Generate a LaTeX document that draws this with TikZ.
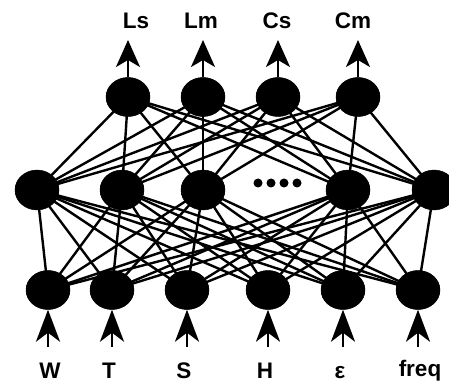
\documentclass[tikz,border=0pt]{standalone}
\usepackage{fontspec}
\setmainfont{Liberation Sans}
\usetikzlibrary{shapes.geometric,arrows.meta}
\begin{document}
\begin{tikzpicture}[x=1pt,y=-1pt,
  neuron/.style={ellipse,fill=black,draw=black,minimum width=44pt,minimum height=39pt,inner sep=0pt},
  link/.style={line width=2.4pt,black},
  outarrow/.style={line width=2.4pt,-{Stealth[length=27pt,width=24pt,inset=7pt]}},
  inarrow/.style={line width=2.4pt,-{Stealth[length=32pt,width=24pt,inset=9pt]}},
  lbl/.style={font=\bfseries\fontsize{22.5}{24}\selectfont,inner sep=0pt,anchor=center},
  dot/.style={circle,fill=black,minimum size=9pt,inner sep=0pt}]
\useasboundingbox (0,0) rectangle (449,387);
\clip (0,0) rectangle (449,387);

% output layer
\node[neuron] (o1) at (128,97) {};
\node[neuron] (o2) at (203,97) {};
\node[neuron] (o3) at (278,97) {};
\node[neuron] (o4) at (358,97) {};

% hidden layer
\node[neuron,minimum height=40pt] (h1) at (37,190) {};
\node[neuron,minimum height=40pt] (h2) at (122,190) {};
\node[neuron,minimum height=40pt] (h3) at (203,190) {};
\node[neuron,minimum height=40pt] (h4) at (348,190) {};
\node[neuron,minimum height=40pt] (h5) at (434,190) {};

% input layer
\node[neuron] (i1) at (48,290) {};
\node[neuron] (i2) at (112,290) {};
\node[neuron] (i3) at (187,290) {};
\node[neuron] (i4) at (268,290) {};
\node[neuron] (i5) at (343,290) {};
\node[neuron] (i6) at (418,290) {};

% full connections between layers
\foreach \h in {1,...,5}{
  \foreach \o in {1,...,4}{\draw[link] (h\h.center) -- (o\o.center);}
  \foreach \i in {1,...,6}{\draw[link] (h\h.center) -- (i\i.center);}
}

% neuron bodies drawn again over the links
\foreach \n in {o1,o2,o3,o4,h1,h2,h3,h4,h5,i1,i2,i3,i4,i5,i6}{
  \fill (\n.center) ellipse [x radius=22pt,y radius=19.5pt];
}

% ellipsis in the hidden layer
\node[dot] (d1) at (258,183) {};
\node[dot] (d2) at (271,183) {};
\node[dot] (d3) at (284,183) {};
\node[dot] (d4) at (297,183) {};

% output arrows
\foreach \k/\x in {1/128,2/203,3/278,4/358}{
  \coordinate (ot\k) at (\x,40);
  \draw[outarrow] (o\k.north) -- (ot\k);
}
% input arrows
\foreach \k/\x in {1/48,2/112,3/187,4/268,5/343,6/418}{
  \coordinate (ib\k) at (\x,347);
  \draw[inarrow] (ib\k) -- (i\k.south);
}

% output labels
\node[lbl] (lLs) at (136,21) {Ls};
\node[lbl] (lLm) at (201,21) {Lm};
\node[lbl] (lCs) at (277,21) {Cs};
\node[lbl] (lCm) at (353,21) {Cm};

% input labels
\node[lbl] (lW) at (50,371) {W};
\node[lbl] (lT) at (109,371) {T};
\node[lbl] (lS) at (184,371) {S};
\node[lbl] (lH) at (265,371) {H};
\node[lbl] (le) at (340,373) {ε};
\node[lbl] (lf) at (420,371) {freq};
\end{tikzpicture}
\end{document}
